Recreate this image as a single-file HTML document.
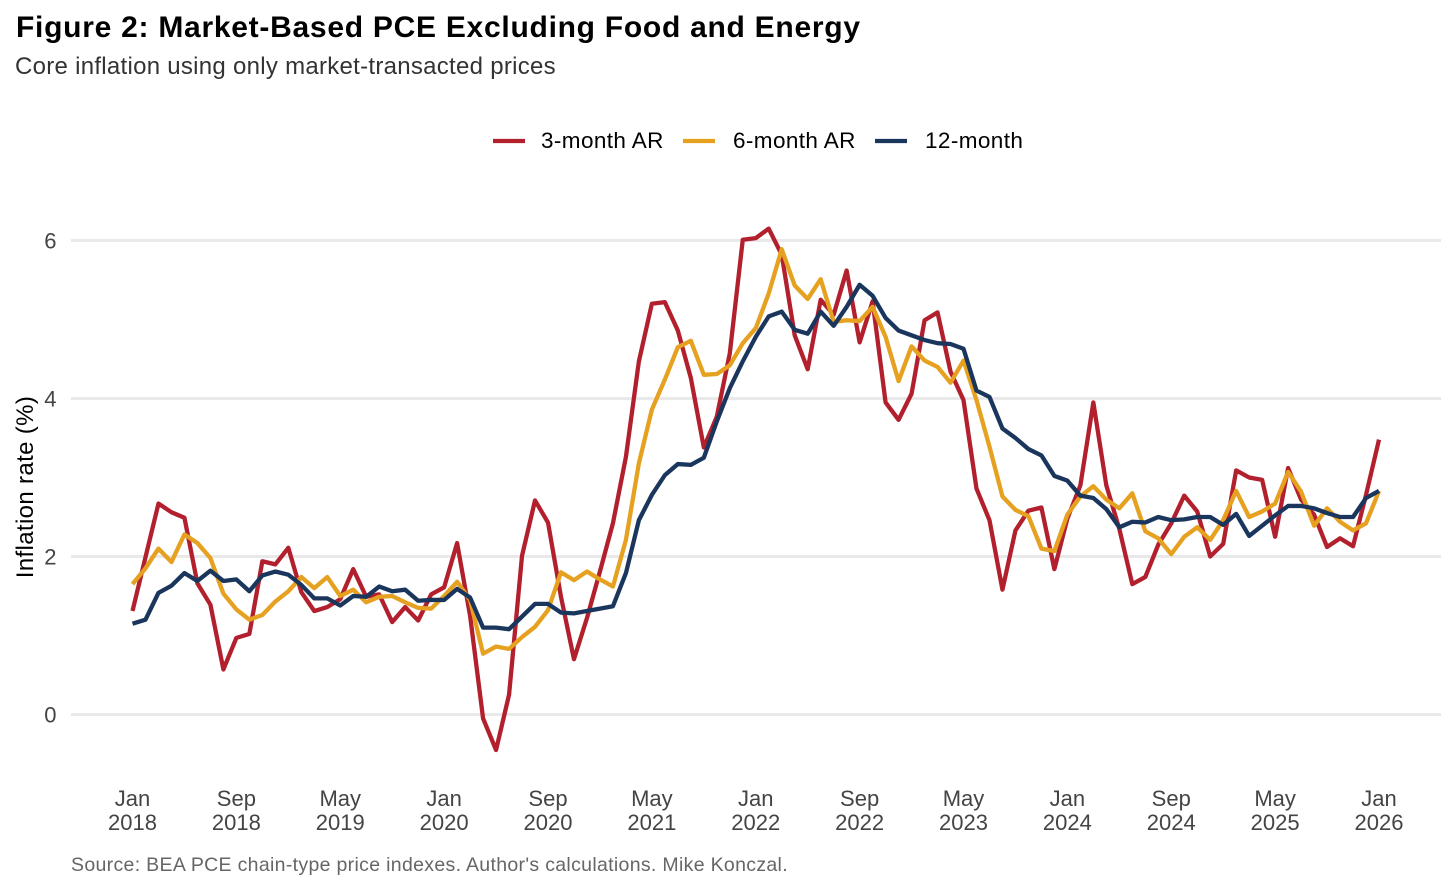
<!DOCTYPE html>
<html lang="en">
<head>
<meta charset="utf-8">
<title>Figure 2: Market-Based PCE Excluding Food and Energy</title>
<style>
html,body{margin:0;padding:0;background:#fff;}
body{width:1456px;height:890px;overflow:hidden;font-family:"Liberation Sans",Arial,sans-serif;}
svg{display:block;}
text{font-family:"Liberation Sans",Arial,sans-serif;}
</style>
</head>
<body>
<svg id="chart" width="1456" height="890" viewBox="0 0 1456 890" xmlns="http://www.w3.org/2000/svg">
  <rect x="0" y="0" width="1456" height="890" fill="#ffffff"/>
  <text x="16" y="37" font-size="30" font-weight="700" fill="#000" letter-spacing="0.73">Figure 2: Market-Based PCE Excluding Food and Energy</text>
  <text x="15" y="74" font-size="24" fill="#333" letter-spacing="0.28">Core inflation using only market-transacted prices</text>

  <g id="grid"></g>
  <g id="y-ticks"></g>
  <g id="x-ticks"></g>
  <g id="series"></g>

  <text transform="translate(33,487) rotate(-90)" text-anchor="middle" font-size="24" fill="#000" letter-spacing="0.35">Inflation rate (%)</text>

  <g>
    <g>
      <line x1="493" x2="525" y1="141" y2="141" stroke="#B2202E" stroke-width="4.3"/>
      <text x="541" y="148" font-size="22.5" fill="#000" letter-spacing="0.4">3-month AR</text>
    </g>
    <g>
      <line x1="683" x2="715" y1="141" y2="141" stroke="#E5A11F" stroke-width="4.3"/>
      <text x="733" y="148" font-size="22.5" fill="#000" letter-spacing="0.4">6-month AR</text>
    </g>
    <g>
      <line x1="875" x2="907" y1="141" y2="141" stroke="#1B365D" stroke-width="4.3"/>
      <text x="925" y="148" font-size="22.5" fill="#000" letter-spacing="0.4">12-month</text>
    </g>
  </g>

  <text x="71" y="871" font-size="19.5" fill="#666" letter-spacing="0.32">Source: BEA PCE chain-type price indexes. Author's calculations. Mike Konczal.</text>
</svg>
<script>
const threeMonth = [1.31,1.99,2.67,2.56,2.49,1.66,1.39,0.57,0.97,1.02,1.94,1.90,2.11,1.55,1.31,1.36,1.46,1.84,1.49,1.52,1.17,1.36,1.19,1.52,1.61,2.17,1.25,-0.05,-0.45,0.25,2.01,2.71,2.43,1.49,0.70,1.22,1.81,2.42,3.26,4.47,5.20,5.22,4.86,4.26,3.38,3.77,4.57,6.01,6.03,6.15,5.82,4.80,4.37,5.25,5.06,5.62,4.71,5.23,3.95,3.73,4.06,4.99,5.09,4.34,3.98,2.86,2.46,1.58,2.33,2.58,2.62,1.84,2.48,2.90,3.95,2.90,2.35,1.65,1.74,2.15,2.42,2.77,2.57,2.00,2.16,3.09,3.00,2.97,2.25,3.12,2.72,2.53,2.12,2.23,2.13,2.78,3.48];
const sixMonth = [1.65,1.85,2.10,1.93,2.28,2.17,1.98,1.53,1.33,1.20,1.26,1.43,1.56,1.74,1.60,1.74,1.50,1.58,1.42,1.49,1.50,1.42,1.35,1.34,1.50,1.68,1.45,0.77,0.86,0.83,0.98,1.11,1.32,1.80,1.70,1.81,1.71,1.62,2.21,3.18,3.86,4.24,4.65,4.73,4.30,4.31,4.42,4.70,4.89,5.33,5.89,5.43,5.26,5.51,4.97,4.99,4.98,5.16,4.78,4.22,4.66,4.48,4.40,4.20,4.48,3.98,3.39,2.76,2.59,2.51,2.10,2.07,2.53,2.76,2.89,2.72,2.61,2.80,2.32,2.23,2.03,2.25,2.37,2.21,2.46,2.83,2.50,2.57,2.67,3.07,2.82,2.39,2.61,2.44,2.33,2.42,2.83];
const twelveMonth = [1.15,1.20,1.54,1.63,1.79,1.69,1.82,1.69,1.71,1.56,1.76,1.81,1.77,1.64,1.47,1.47,1.38,1.50,1.49,1.62,1.56,1.58,1.44,1.45,1.45,1.59,1.48,1.10,1.10,1.08,1.24,1.40,1.40,1.29,1.28,1.31,1.34,1.37,1.79,2.46,2.78,3.03,3.17,3.16,3.25,3.71,4.13,4.47,4.78,5.04,5.10,4.87,4.82,5.10,4.92,5.16,5.44,5.30,5.02,4.86,4.80,4.74,4.70,4.69,4.63,4.10,4.02,3.62,3.50,3.36,3.28,3.02,2.96,2.77,2.74,2.60,2.37,2.44,2.43,2.50,2.46,2.47,2.50,2.50,2.40,2.54,2.26,2.39,2.52,2.64,2.64,2.61,2.55,2.50,2.50,2.74,2.83];
const yTickValues = [0,2,4,6];
const xTickLabels = ["Jan 2018","Sep 2018","May 2019","Jan 2020","Sep 2020","May 2021","Jan 2022","Sep 2022","May 2023","Jan 2024","Sep 2024","May 2025","Jan 2026"];
const monthNames = ["Jan","Feb","Mar","Apr","May","Jun","Jul","Aug","Sep","Oct","Nov","Dec"];

const SVGNS = "http://www.w3.org/2000/svg";
function xScale(i){ return 132.5 + i * (1379 - 132.5) / 96; }
function yScale(v){ return 714.5 - v * 79; }
function labelToIndex(label){
  const parts = label.split(" ");
  return (Number(parts[1]) - 2018) * 12 + monthNames.indexOf(parts[0]);
}

const gridG = document.getElementById("grid");
const yG = document.getElementById("y-ticks");
yTickValues.forEach(function(v){
  const g = document.createElementNS(SVGNS, "line");
  g.setAttribute("x1", 71);
  g.setAttribute("x2", 1441);
  g.setAttribute("y1", yScale(v));
  g.setAttribute("y2", yScale(v));
  g.setAttribute("stroke", "#e9e9e9");
  g.setAttribute("stroke-width", 3);
  
  
  gridG.appendChild(g);

  const t = document.createElementNS(SVGNS, "text");
  t.setAttribute("x", 56.5);
  t.setAttribute("y", yScale(v) + 8);
  t.setAttribute("text-anchor", "end");
  t.setAttribute("font-size", 22);
  t.setAttribute("fill", "#444");
  t.textContent = String(v);
  
  
  yG.appendChild(t);
});

const xG = document.getElementById("x-ticks");
xTickLabels.forEach(function(label){
  const parts = label.split(" ");
  const x = xScale(labelToIndex(label));
  parts.forEach(function(part, k){
    const t = document.createElementNS(SVGNS, "text");
    t.setAttribute("x", x);
    t.setAttribute("y", 806 + k * 24);
    t.setAttribute("text-anchor", "middle");
    t.setAttribute("font-size", 22);
    t.setAttribute("fill", "#444");
    t.textContent = part;
    
    
    xG.appendChild(t);
  });
});

const seriesG = document.getElementById("series");
function drawSeries(values, color, name){
  const p = document.createElementNS(SVGNS, "polyline");
  p.setAttribute("points", values.map(function(v, i){
    return xScale(i).toFixed(2) + "," + yScale(v).toFixed(2);
  }).join(" "));
  p.setAttribute("fill", "none");
  p.setAttribute("stroke", color);
  p.setAttribute("stroke-width", 4.3);
  p.setAttribute("stroke-linejoin", "round");
  p.setAttribute("stroke-linecap", "butt");
  
  
  seriesG.appendChild(p);
}
drawSeries(threeMonth, "#B2202E", "line-3-month-ar");
drawSeries(sixMonth, "#E5A11F", "line-6-month-ar");
drawSeries(twelveMonth, "#1B365D", "line-12-month");
</script>
</body>
</html>
